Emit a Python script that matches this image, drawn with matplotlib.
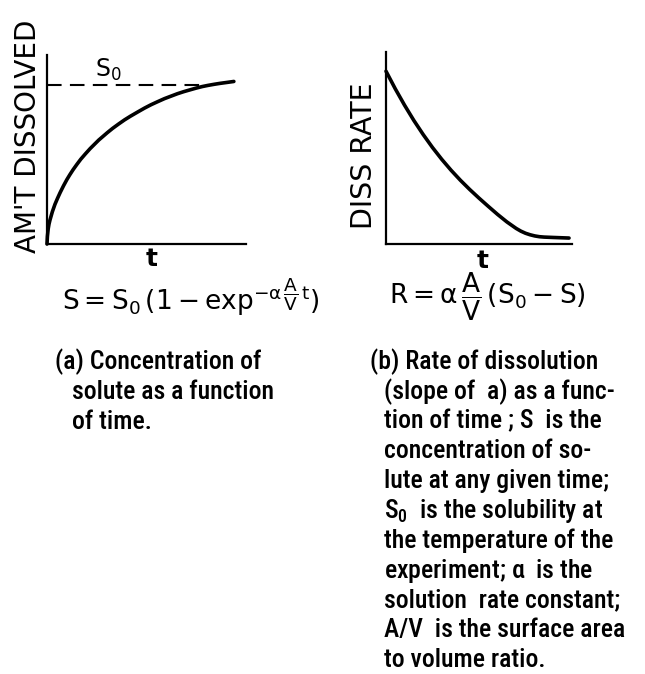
import matplotlib.pyplot as plt
from matplotlib import font_manager

# (a) amount dissolved against time, arbitrary units
t_a = [0.0, 0.002, 0.006, 0.01, 0.015, 0.027, 0.04, 0.053, 0.066, 0.083, 0.10, 0.115,
       0.131, 0.15, 0.17, 0.193, 0.217, 0.26, 0.303, 0.33, 0.36, 0.39, 0.419, 0.455,
       0.49, 0.523, 0.556, 0.59, 0.62, 0.655, 0.687, 0.72, 0.75, 0.78, 0.808, 0.84,
       0.87, 0.905, 0.939]
s_a = [0.0, 0.04, 0.08, 0.105, 0.127, 0.171, 0.21, 0.242, 0.272, 0.308, 0.341, 0.367,
       0.393, 0.421, 0.449, 0.477, 0.505, 0.550, 0.589, 0.612, 0.635, 0.657, 0.676, 0.698,
       0.719, 0.737, 0.753, 0.769, 0.781, 0.795, 0.806, 0.816, 0.825, 0.833, 0.839, 0.845,
       0.850, 0.855, 0.860]
s_sat = 0.841          # solubility level S0
t_sat_end = 0.80       # where the dashed line meets the curve

# (b) dissolution rate against time
t_b = [0.0, 0.05, 0.10, 0.15, 0.20, 0.25, 0.30, 0.35, 0.40, 0.45, 0.50, 0.55, 0.60,
       0.65, 0.70, 0.725, 0.75, 0.775, 0.80, 0.825, 0.85, 0.90, 0.984]
r_b = [0.90, 0.808, 0.7225, 0.643, 0.570, 0.5025, 0.4407, 0.384, 0.332, 0.284, 0.239,
       0.196, 0.154, 0.115, 0.081, 0.067, 0.056, 0.048, 0.042, 0.038, 0.036, 0.034, 0.031]

caption_a = ["(a) Concentration of",
             "solute as a function",
             "of time."]
caption_b = ["(b) Rate of dissolution",
             "(slope of  a) as a func-",
             "tion of time ; S  is the",
             "concentration of so-",
             "lute at any given time;",
             r"S$_{\mathregular{0}}$  is the solubility at",
             "the temperature of the",
             r"experiment; $\alpha$  is the",
             "solution  rate constant;",
             "A/V  is the surface area",
             "to volume ratio."]

W, H = 645, 674
plt.rcParams['mathtext.default'] = 'regular'
plt.rcParams['font.family'] = 'DejaVu Sans'

fig = plt.figure(figsize=(W / 100, H / 100), dpi=100)

def fx(px):
    return px / W

def fy(py):
    return 1 - py / H

def plain_axes(rect):
    ax = fig.add_axes(rect)
    ax.set_xlim(0, 1)
    ax.set_ylim(0, 1)
    ax.spines['top'].set_visible(False)
    ax.spines['right'].set_visible(False)
    for s in ('left', 'bottom'):
        ax.spines[s].set_linewidth(1.6)
    ax.set_xticks([])
    ax.set_yticks([])
    ax.patch.set_alpha(0)
    return ax

ax1 = plain_axes([fx(47), fy(244), fx(246 - 47), (244 - 55) / H])
ax1.plot(t_a, s_a, color='black', lw=2.6, solid_capstyle='round', solid_joinstyle='round', clip_on=False)
ax1.plot([0, t_sat_end], [s_sat, s_sat], color='black', lw=1.5, dashes=(7, 4))
ax1.text(0.24, 0.92, r'S$_{\mathregular{0}}$', fontsize=17, va='center')

ax2 = plain_axes([fx(386), fy(244), fx(572 - 386), (244 - 52) / H])
ax2.plot(t_b, r_b, color='black', lw=2.6, solid_capstyle='round', solid_joinstyle='round', clip_on=False)

# axis labels
fig.text(fx(28), fy(136), "AM'T DISSOLVED", rotation=90, ha='center', va='center', fontsize=20)
fig.text(fx(364), fy(156), "DISS RATE", rotation=90, ha='center', va='center', fontsize=20.5)
fig.text(fx(152), fy(259), "t", ha='center', va='center', fontsize=18, fontweight='bold')
fig.text(fx(483), fy(261), "t", ha='center', va='center', fontsize=18, fontweight='bold')

# rate equations
fig.text(fx(191), fy(297), r'$S = S_0\,(1 - exp^{-\alpha\,\dfrac{A}{V}\,t})$',
         ha='center', va='center', fontsize=19)
fig.text(fx(487), fy(297), r'$R = \alpha\,\dfrac{A}{V}\,(S_0 - S)$',
         ha='center', va='center', fontsize=19)

# captions in a condensed face if one is installed
names = {f.name for f in font_manager.fontManager.ttflist}
narrow = [n for n in ('Liberation Sans Narrow', 'DejaVu Sans Condensed', 'Roboto Condensed',
                      'Open Sans Condensed') if n in names]
cap_font = narrow[:1] + ['DejaVu Sans']
cap_size = 18.5 if narrow else 14
step = 29.8
for i, line in enumerate(caption_a):
    x = 55 if i == 0 else 72
    fig.text(fx(x), fy(362 + i * step), line, ha='left', va='center',
             fontsize=cap_size, family=cap_font, fontstretch='condensed', fontweight='medium')
for i, line in enumerate(caption_b):
    x = 370 if i == 0 else 384
    fig.text(fx(x), fy(362 + i * step), line, ha='left', va='center',
             fontsize=cap_size, family=cap_font, fontstretch='condensed', fontweight='medium')

fig.savefig('out.png', dpi=100)
